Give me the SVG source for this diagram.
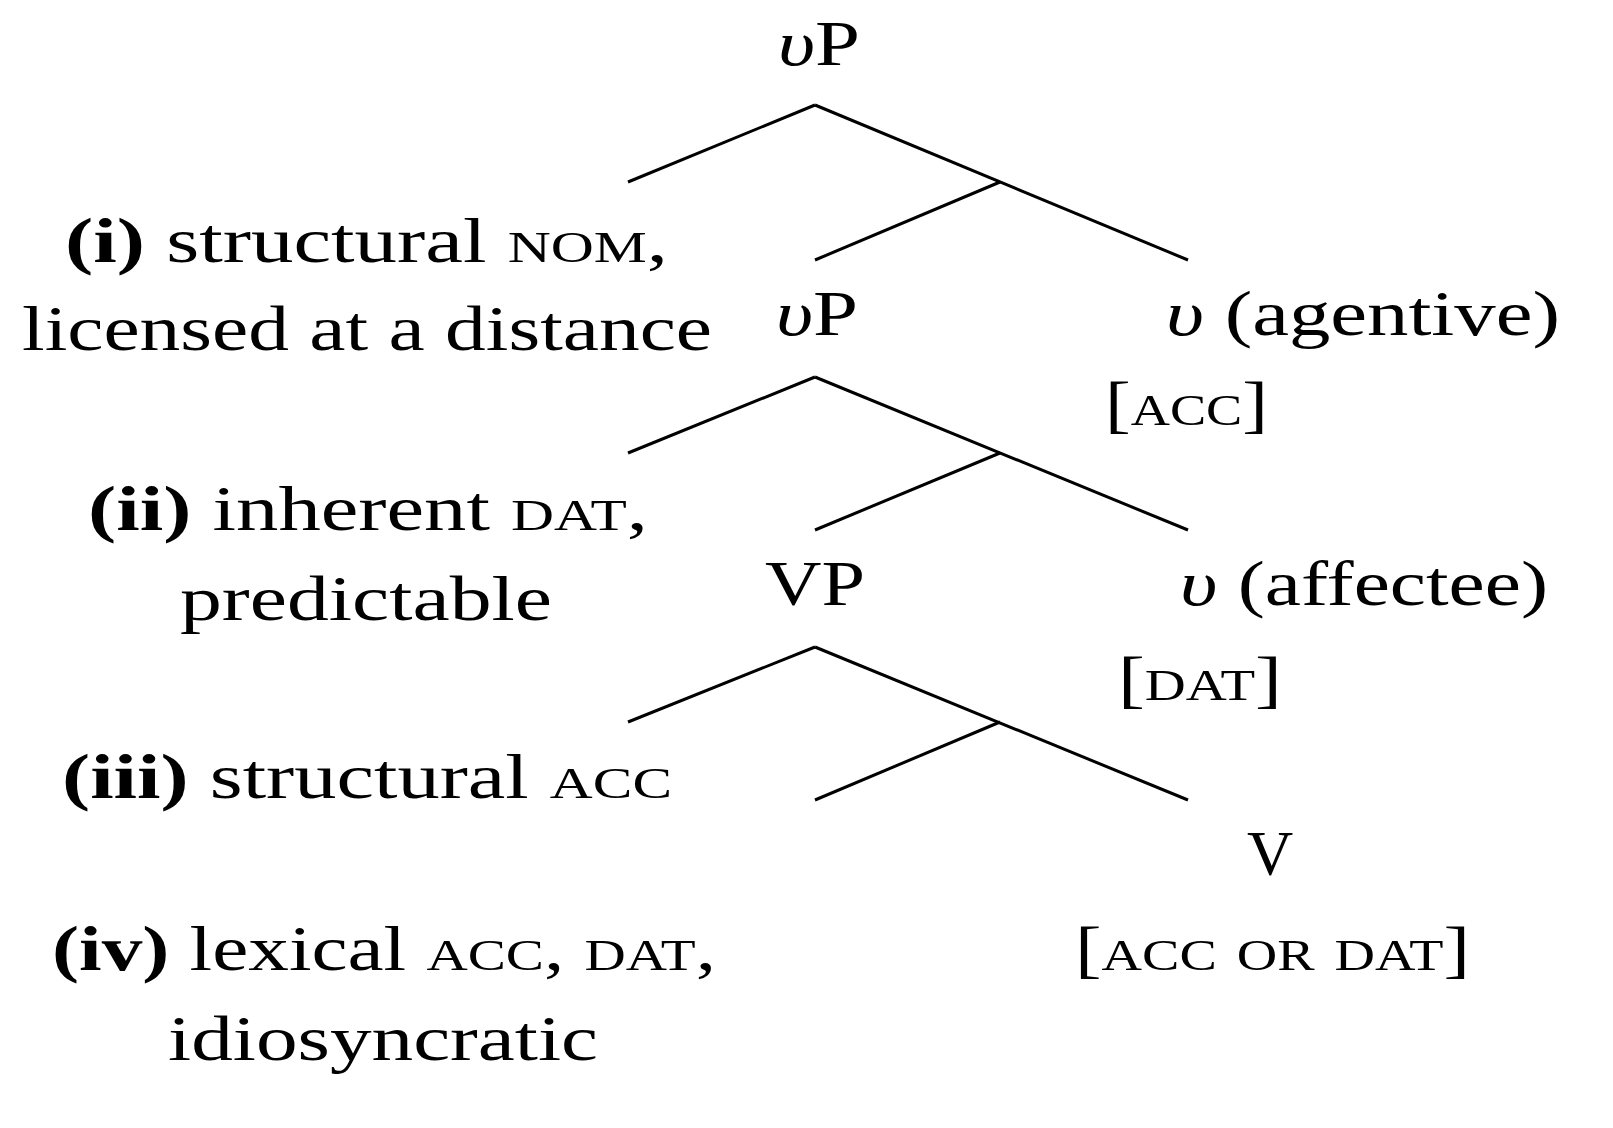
<svg xmlns="http://www.w3.org/2000/svg" width="1613" height="1128" viewBox="0 0 1613 1128">
<style>
text{font-family:"Liberation Serif","DejaVu Serif",serif;font-size:64px;fill:#000}
.m{text-anchor:middle}
.sc{font-variant:small-caps}
.b{font-weight:bold}.i{font-style:italic}
line{stroke:#000;stroke-width:3}
</style>
<rect width="1613" height="1128" fill="#fff"/>
<g id="connectors">
<line x1="815" y1="105" x2="628" y2="182"/><line x1="815" y1="105" x2="1188" y2="260"/><line x1="1000" y1="182" x2="815" y2="260"/>
<line x1="815" y1="377" x2="628" y2="453"/><line x1="815" y1="377" x2="1188" y2="530"/><line x1="1000" y1="453" x2="815" y2="530"/>
<line x1="815" y1="647" x2="628" y2="722"/><line x1="815" y1="647" x2="1188" y2="800"/><line x1="1000" y1="722" x2="815" y2="800"/>
</g>
<g id="vP1"><text x="778" y="65" textLength="82" lengthAdjust="spacingAndGlyphs"><tspan class="i">υ</tspan>P</text></g>
<g id="spec1"><text x="65" y="262" textLength="603" lengthAdjust="spacingAndGlyphs"><tspan class="b">(i)</tspan> structural <tspan class="sc">nom</tspan>,</text>
<text x="22" y="350" textLength="690" lengthAdjust="spacingAndGlyphs">licensed at a distance</text></g>
<g id="vP2"><text x="776" y="335" textLength="82" lengthAdjust="spacingAndGlyphs"><tspan class="i">υ</tspan>P</text></g>
<g id="v1"><text x="1166" y="335" textLength="394" lengthAdjust="spacingAndGlyphs"><tspan class="i">υ</tspan>  (agentive)</text>
<text x="1105" y="425" textLength="163" lengthAdjust="spacingAndGlyphs">[<tspan class="sc">acc</tspan>]</text></g>
<g id="spec2"><text x="88" y="530" textLength="560" lengthAdjust="spacingAndGlyphs"><tspan class="b">(ii)</tspan> inherent <tspan class="sc">dat</tspan>,</text>
<text x="180" y="620" textLength="372" lengthAdjust="spacingAndGlyphs">predictable</text></g>
<g id="VP"><text x="765" y="605" textLength="100" lengthAdjust="spacingAndGlyphs">VP</text></g>
<g id="v2"><text x="1180" y="605" textLength="368" lengthAdjust="spacingAndGlyphs"><tspan class="i">υ</tspan>  (affectee)</text>
<text x="1118" y="700" textLength="164" lengthAdjust="spacingAndGlyphs">[<tspan class="sc">dat</tspan>]</text></g>
<g id="spec3"><text x="62" y="798" textLength="610" lengthAdjust="spacingAndGlyphs"><tspan class="b">(iii)</tspan> structural <tspan class="sc">acc</tspan></text></g>
<g id="V"><text class="m" x="1270" y="875">V</text>
<text x="1075" y="970" textLength="395" lengthAdjust="spacingAndGlyphs">[<tspan class="sc">acc or dat</tspan>]</text></g>
<g id="comp"><text x="52" y="970" textLength="664" lengthAdjust="spacingAndGlyphs"><tspan class="b">(iv)</tspan> lexical <tspan class="sc">acc</tspan>, <tspan class="sc">dat</tspan>,</text>
<text x="168" y="1060" textLength="430" lengthAdjust="spacingAndGlyphs">idiosyncratic</text></g>
</svg>
